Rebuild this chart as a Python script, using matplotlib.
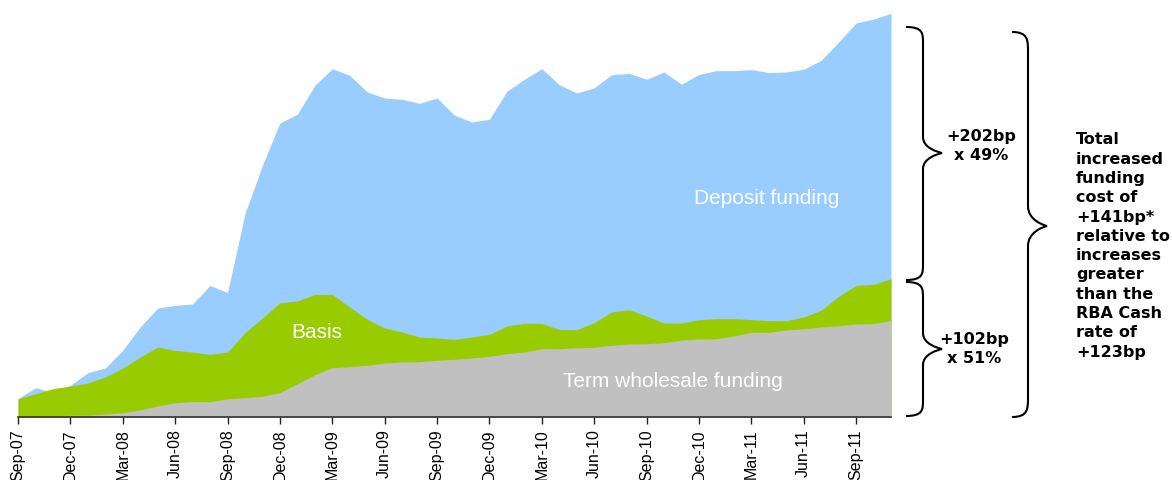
import matplotlib
matplotlib.use("Agg")
import matplotlib.pyplot as plt
import numpy as np
from matplotlib.path import Path
from matplotlib.patches import PathPatch

# ---- data (monthly, Sep-07 .. Nov-11) ----
months = ["Sep-07", "Oct-07", "Nov-07", "Dec-07", "Jan-08", "Feb-08", "Mar-08", "Apr-08",
          "May-08", "Jun-08", "Jul-08", "Aug-08", "Sep-08", "Oct-08", "Nov-08", "Dec-08",
          "Jan-09", "Feb-09", "Mar-09", "Apr-09", "May-09", "Jun-09", "Jul-09", "Aug-09",
          "Sep-09", "Oct-09", "Nov-09", "Dec-09", "Jan-10", "Feb-10", "Mar-10", "Apr-10",
          "May-10", "Jun-10", "Jul-10", "Aug-10", "Sep-10", "Oct-10", "Nov-10", "Dec-10",
          "Jan-11", "Feb-11", "Mar-11", "Apr-11", "May-11", "Jun-11", "Jul-11", "Aug-11",
          "Sep-11", "Oct-11", "Nov-11"]

term_wholesale = [0.0, 0.3, 1.0, 1.7, 2.0, 3.0, 4.3, 7.0, 11.0, 14.3, 15.3, 15.3, 18.3,
                  19.3, 20.7, 24.3, 33.3, 42.3, 49.3, 50.3, 51.7, 54.0, 55.0, 55.3, 56.7,
                  57.7, 59.0, 60.7, 63.3, 65.0, 68.3, 68.3, 69.3, 69.7, 71.7, 73.0, 73.3,
                  74.3, 77.0, 78.0, 78.3, 81.0, 84.7, 84.7, 87.0, 88.3, 90.0, 91.3, 93.0,
                  93.3, 96.7]

basis = [18.3, 23.0, 27.3, 29.3, 32.0, 37.0, 44.7, 53.0, 59.0, 52.3, 49.7, 47.3, 46.7,
         65.0, 78.3, 90.0, 82.7, 80.3, 73.3, 59.7, 46.0, 35.0, 30.0, 24.7, 22.3,
         20.0, 21.0, 22.0, 27.7, 28.7, 25.3, 19.3, 18.0, 24.7, 33.3, 34.3, 27.7,
         19.7, 17.0, 19.3, 20.0, 17.3, 12.7, 11.7, 9.3, 11.7, 16.7, 29.3, 38.7,
         39.3, 41.7]

deposit = [0.0, 6.0, -4.0, 0.7, 10.3, 9.0, 17.7, 30.0, 39.0, 45.0, 48.0, 69.0, 59.3,
           119.0, 152.7, 179.7, 186.7, 209.0, 225.7, 231.7, 227.3, 230.0, 232.7, 233.7, 240.0,
           224.0, 215.0, 215.0, 234.7, 244.0, 254.7, 244.7, 236.7, 234.7, 237.3, 236.3, 236.7,
           251.0, 238.7, 245.3, 248.0, 248.0, 250.0, 248.0, 248.7, 247.7, 250.0, 254.3, 262.3,
           265.3, 265.3]

series_labels = ["Term wholesale funding", "Basis", "Deposit funding"]
brace_labels = ["+202bp\nx 49%", "+102bp\nx 51%"]
total_text = ("Total\nincreased\nfunding\ncost of\n+141bp*\nrelative to\nincreases\n"
              "greater\nthan the\nRBA Cash\nrate of\n+123bp")

# ---- figure ----
W, H = 1172, 481
fig = plt.figure(figsize=(W / 100, H / 100), dpi=100)
fig.patch.set_facecolor("white")

left_px, right_px, base_px, top_px = 18, 891, 418, 8
ax = fig.add_axes([left_px / W, (H - base_px) / H,
                   (right_px - left_px) / W, (base_px - top_px) / H])

x = np.arange(len(months))
tw = np.array(term_wholesale)
lvl2 = tw + np.array(basis)
lvl3 = lvl2 + np.array(deposit)

c_dep, c_basis, c_term = "#99CCFF", "#99CC00", "#C0C0C0"
ax.fill_between(x, 0, lvl3, color=c_dep, lw=0)
ax.fill_between(x, 0, lvl2, color=c_basis, lw=0)
ax.fill_between(x, 0, tw, color=c_term, lw=0)

ax.set_xlim(0, len(months) - 1)
ax.set_ylim(0, base_px - top_px)

for s in ["top", "right", "left"]:
    ax.spines[s].set_visible(False)
ax.spines["bottom"].set_color("#333333")
ax.spines["bottom"].set_linewidth(1.2)
ax.set_yticks([])
ticks = x[::3]
ax.set_xticks(ticks)
ax.set_xticklabels([months[i] for i in ticks], rotation=90, va="top", ha="center",
                   fontfamily="Liberation Sans", fontsize=11.5)
ax.tick_params(axis="x", direction="out", length=5, width=1, color="#222222", pad=3)

txt_font = dict(fontfamily="Liberation Sans", fontsize=15, color="white")
ax.text(17.1, base_px - 333, series_labels[1], ha="center", va="center", **txt_font)
ax.text(42.9, base_px - 199, series_labels[2], ha="center", va="center", **txt_font)
ax.text(37.5, base_px - 382, series_labels[0], ha="center", va="center", **txt_font)


# ---- braces (figure pixel coords, y from top) ----
def to_fig(px, py):
    return (px / W, 1 - py / H)


def brace(x_end, x_spine, x_tip, y0, y1, y_mid, r=16):
    pts = [
        (x_end, y0),
        (x_spine, y0), (x_spine, y0 + r * 0.4), (x_spine, y0 + r),
        (x_spine, y_mid - r),
        (x_spine, y_mid - r * 0.3), (x_tip - 4, y_mid - 1), (x_tip, y_mid),
        (x_tip - 4, y_mid + 1), (x_spine, y_mid + r * 0.3), (x_spine, y_mid + r),
        (x_spine, y1 - r),
        (x_spine, y1 - r * 0.4), (x_spine, y1), (x_end, y1),
    ]
    codes = [Path.MOVETO,
             Path.CURVE4, Path.CURVE4, Path.CURVE4,
             Path.LINETO,
             Path.CURVE4, Path.CURVE4, Path.CURVE4,
             Path.CURVE4, Path.CURVE4, Path.CURVE4,
             Path.LINETO,
             Path.CURVE4, Path.CURVE4, Path.CURVE4]
    verts = [to_fig(px, py) for px, py in pts]
    patch = PathPatch(Path(verts, codes), transform=fig.transFigure,
                      fill=False, edgecolor="black", lw=1.5)
    fig.add_artist(patch)


brace(906, 923, 942, 28, 281, 154)
brace(906, 923, 942, 283, 417, 350)
brace(1012, 1028, 1047, 33, 418, 227, r=20)

bold = dict(fontfamily="DejaVu Sans", fontweight="bold", fontsize=11.5, color="black",
            transform=fig.transFigure, linespacing=1.3)
fig.text(*to_fig(981, 146), brace_labels[0], ha="center", va="center",
         multialignment="center", **bold)
fig.text(*to_fig(974, 349), brace_labels[1], ha="center", va="center",
         multialignment="center", **bold)
fig.text(*to_fig(1076, 246), total_text, ha="left", va="center",
         multialignment="left", **dict(bold, linespacing=1.36))

fig.savefig("out.png", dpi=100, facecolor="white")
